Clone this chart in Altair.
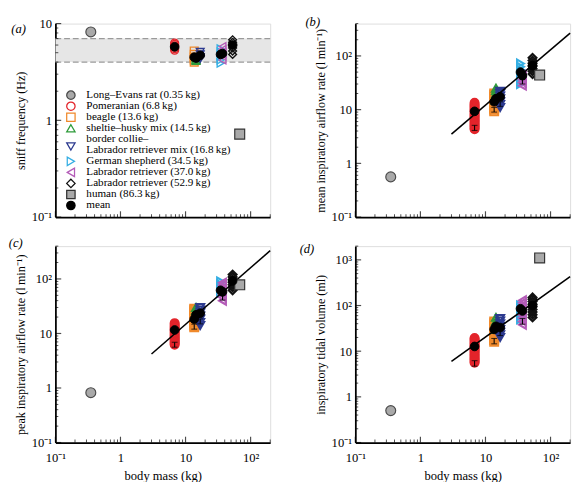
import altair as alt
import pandas as pd

FONT = "Liberation Serif"
TS = "\u2009"

# ---------------- groups (legend order) ----------------
group_labels = [
    f"Long\u2013Evans rat (0.35{TS}kg)",
    f"Pomeranian (6.8{TS}kg)",
    f"beagle (13.6{TS}kg)",
    f"sheltie\u2013husky mix (14.5{TS}kg)",
    f"border collie\u2013Labrador retriever mix (16.8{TS}kg)",
    f"German shepherd (34.5{TS}kg)",
    f"Labrador retriever (37.0{TS}kg)",
    f"Labrador retriever (52.9{TS}kg)",
    f"human (86.3{TS}kg)",
    "mean",
]
group_shapes = ["circle", "circle", "square", "triangle-up", "triangle-down",
                "triangle-right", "triangle-left", "diamond", "square", "circle"]
group_strokes = ["#4a4a4a", "#e3242b", "#f0892b", "#2e9b3a", "#2c3a8f",
                 "#35aee3", "#b45cb8", "#111111", "#333333", "#000000"]
group_fills = ["#a9a9a9", "transparent", "transparent", "transparent", "transparent",
               "transparent", "transparent", "transparent", "#a9a9a9", "#000000"]

# legend text lines (the border collie entry is wrapped onto two lines)
legend_lines = [
    f"Long\u2013Evans rat (0.35{TS}kg)",
    f"Pomeranian (6.8{TS}kg)",
    f"beagle (13.6{TS}kg)",
    f"sheltie\u2013husky mix (14.5{TS}kg)",
    "border collie\u2013",
    f"Labrador retriever mix (16.8{TS}kg)",
    f"German shepherd (34.5{TS}kg)",
    f"Labrador retriever (37.0{TS}kg)",
    f"Labrador retriever (52.9{TS}kg)",
    f"human (86.3{TS}kg)",
    "mean",
]
legend_line_rows = [0, 1, 2, 3, 4, 5, 6, 7, 8, 9, 10]
legend_symbol_rows = [0, 1, 2, 3, 4.65, 6, 7, 8, 9, 10]

dog_groups = group_labels[1:8]
dog_mass = [6.8, 13.6, 14.5, 16.8, 34.5, 37.0, 52.9]
rat_mass = 0.35
human_mass = 68.0  # where the human square is drawn

# ---------------- (a) sniff frequency (Hz) ----------------
sniff_ind = [
    [5.3, 5.5, 5.7, 5.9, 6.1, 6.3],
    [4.0, 4.2, 4.5, 4.8, 5.2],
    [4.1, 4.2, 4.35, 4.5],
    [4.3, 4.5, 4.8, 5.1],
    [3.9, 4.2, 4.6, 5.1, 5.5],
    [4.2, 4.6, 5.0, 5.4, 5.8],
    [4.8, 5.2, 5.6, 6.0, 6.4, 6.8],
]
sniff_mean = [5.75, 4.5, 4.4, 4.7, 4.8, 4.9, 6.0]
sniff_rat = 8.2
sniff_human = 0.72
sniff_band = [4.0, 7.0]

# ---------------- (b) mean inspiratory airflow (l/min) ----------------
mean_ind = [
    [4.3, 4.5, 4.8, 5.0, 5.3, 5.6, 5.9, 6.2, 6.5, 6.9, 7.3, 7.7, 8.1, 8.6, 9.1,
     9.6, 10.1, 10.7, 11.3, 11.9, 12.6, 13.4],
    [9.3, 10.0, 10.7, 11.5, 12.3, 13.2, 14.2, 15.2, 16.3, 17.5, 18.8, 20.0],
    [15, 17, 19.5, 22.5, 25],
    [11, 12.5, 14, 16, 18, 20, 22],
    [30, 35, 40, 47, 55, 63, 72],
    [28, 32, 36, 40, 45],
    [46, 52, 58, 65, 73, 82, 92],
]
mean_mean = [9.3, 14, 16, 17.4, 50, 43, 66]
mean_rat = 0.56
mean_human = 44
mean_fit_mass = [3, 200]
mean_fit = [3.5, 265]
mean_bar_mass = [6.8, 13.6, 16.8, 37.0]
mean_bar_lo = [4.1, 9.0, 11.5, 30]
mean_bar_hi = [5.1, 11.0, 14.0, 37]

# ---------------- (c) peak inspiratory airflow (l/min) ----------------
peak_ind = [
    [6.2, 6.5, 6.8, 7.1, 7.5, 7.9, 8.3, 8.7, 9.2, 9.7, 10.2, 10.7, 11.3, 11.9,
     12.5, 13.2, 13.9, 14.7, 15.5],
    [13, 13.8, 14.7, 15.7, 16.8, 18.0, 19.3, 20.7, 22.2, 23.8, 25.5, 27.3, 28.5],
    [20, 23, 26, 30],
    [14, 16, 18.5, 21, 24, 27, 30],
    [55, 62, 70, 80, 90],
    [40, 46, 52, 60, 68, 77, 85],
    [62, 70, 78, 87, 97, 108, 120],
]
peak_mean = [11.6, 18.3, 22, 23.5, 62, 58, 92]
peak_rat = 0.82
peak_human = 78
peak_fit_mass = [3, 200]
peak_fit = [4.2, 330]
peak_bar_mass = [6.8, 13.6, 16.8, 37.0]
peak_bar_lo = [5.6, 12, 15, 41]
peak_bar_hi = [6.9, 14.8, 18.5, 50]

# ---------------- (d) inspiratory tidal volume (ml) ----------------
tidal_ind = [
    [5.6, 5.9, 6.3, 6.7, 7.1, 7.6, 8.1, 8.6, 9.2, 9.8, 10.4, 11.1, 11.8, 12.6,
     13.4, 14.3, 15.2, 16.2, 17.3, 18.4, 19.5],
    [16, 17.5, 19, 20.5, 22.5, 24.5, 26.5, 29, 31.5, 34.5, 37.5, 41, 45],
    [30, 37, 45, 55],
    [20, 23, 26, 30, 35, 40, 46, 52],
    [50, 58, 67, 77, 88, 100],
    [38, 45, 53, 62, 73, 86, 100, 115, 130],
    [55, 63, 72, 82, 94, 107, 122, 138, 150],
]
tidal_mean = [12.7, 30, 35, 33, 85, 76, 100]
tidal_rat = 0.5
tidal_human = 1100
tidal_fit_mass = [3, 200]
tidal_fit = [6, 430]
tidal_bar_mass = [6.8, 13.6, 16.8, 37.0]
tidal_bar_lo = [4.7, 14.5, 22, 39]
tidal_bar_hi = [6.2, 19, 29, 52]

# ---------------- axes ----------------
x_domain = [0.1, 200]
major_values = [0.1, 1, 10, 100, 1000]
minor_values = [m * 10.0 ** e for e in range(-1, 4) for m in range(2, 10)]
LABEL_EXPR = ("datum.value < 0.5 ? '10\u207b\u00b9' : datum.value < 5 ? '1' : "
              "datum.value < 50 ? '10' : datum.value < 500 ? '10\u00b2' : '10\u00b3'")

W = 222
H1 = 200
H2 = 203


def group_enc():
    return dict(
        shape=alt.Shape("group:N", scale=alt.Scale(domain=group_labels, range=group_shapes), legend=None),
        fill=alt.Fill("group:N", scale=alt.Scale(domain=group_labels, range=group_fills), legend=None),
        stroke=alt.Stroke("group:N", scale=alt.Scale(domain=group_labels, range=group_strokes), legend=None),
    )


def make_panel(ind, means, rat, human, ydom, ytitle, H, show_x, label, label_x, label_y,
               fit_mass=None, fit=None, bar_mass=None, bar_lo=None, bar_hi=None,
               band=None, legend=False, ind_stroke=2.2):
    xscale = alt.Scale(type="log", domain=x_domain, nice=False)
    yscale = alt.Scale(type="log", domain=ydom, nice=False)
    common = dict(ticks=False, grid=False, domainColor="black", domainWidth=1.8,
                  labelFont=FONT, labelFontSize=13, labelColor="black",
                  labelOverlap=False, titleFont=FONT, titleFontSize=13,
                  titleFontWeight="normal", titleColor="black")
    if show_x:
        xaxis = alt.Axis(values=[v for v in major_values if v <= x_domain[1]],
                         labelExpr=LABEL_EXPR, labelFlush=False, labelPadding=10,
                         title="body mass (kg)", titlePadding=5, **common)
    else:
        xaxis = alt.Axis(labels=False, title=None, **{k: v for k, v in common.items()
                                                       if not k.startswith("label")})
    ycommon = dict(common)
    ycommon["titleFontSize"] = 12.5
    yaxis = alt.Axis(values=[v for v in major_values if v <= ydom[1]],
                     labelExpr=LABEL_EXPR, labelPadding=4, title=ytitle,
                     titlePadding=4, **ycommon)

    def X(f):
        return alt.X(f, type="quantitative", scale=xscale, axis=xaxis)

    def Y(f):
        return alt.Y(f, type="quantitative", scale=yscale, axis=yaxis)

    layers = []
    if band is not None:
        bdf = pd.DataFrame({"lo": [band[0]], "hi": [band[1]]})
        layers.append(alt.Chart(bdf).mark_rect(color="#e6e6e6").encode(
            y=Y("lo"), y2="hi", x=alt.value(0), x2=alt.value(W)))
        rdf = pd.DataFrame({"value": band})
        layers.append(alt.Chart(rdf).mark_rule(color="#9a9a9a", strokeDash=[6, 3], strokeWidth=1.3)
                      .encode(y=Y("value")))

    rows = []
    for g, m, vals in zip(dog_groups, dog_mass, ind):
        for v in vals:
            rows.append({"group": g, "mass": m, "value": v})
    ind_df = pd.DataFrame(rows)
    layers.append(alt.Chart(ind_df).mark_point(size=65, strokeWidth=ind_stroke, opacity=1)
                  .encode(x=X("mass"), y=Y("value"), **group_enc()))

    if fit is not None:
        fdf = pd.DataFrame({"mass": fit_mass, "value": fit})
        layers.append(alt.Chart(fdf).mark_line(color="black", strokeWidth=1.6)
                      .encode(x=X("mass"), y=Y("value")))

    if bar_mass is not None:
        edf = pd.DataFrame({"mass": bar_mass, "lo": bar_lo, "hi": bar_hi})
        layers.append(alt.Chart(edf).mark_rule(color="black", strokeWidth=1.1)
                      .encode(x=X("mass"), y=Y("lo"), y2="hi"))
        layers.append(alt.Chart(edf).mark_tick(orient="horizontal", size=6, thickness=1.1, color="black")
                      .encode(x=X("mass"), y=Y("lo")))
        layers.append(alt.Chart(edf).mark_tick(orient="horizontal", size=6, thickness=1.1, color="black")
                      .encode(x=X("mass"), y=Y("hi")))

    sdf = pd.DataFrame({"group": [group_labels[0], group_labels[8]],
                        "mass": [rat_mass, human_mass], "value": [rat, human]})
    layers.append(alt.Chart(sdf).mark_point(size=105, strokeWidth=1.2, opacity=1)
                  .encode(x=X("mass"), y=Y("value"), **group_enc()))

    mdf = pd.DataFrame({"group": ["mean"] * len(dog_mass), "mass": dog_mass, "value": means})
    layers.append(alt.Chart(mdf).mark_point(size=80, strokeWidth=1, opacity=1)
                  .encode(x=X("mass"), y=Y("value"), **group_enc()))

    # inward axis ticks
    xmaj = pd.DataFrame({"t": [v for v in major_values if x_domain[0] <= v <= x_domain[1]]})
    xmin = pd.DataFrame({"t": [v for v in minor_values if x_domain[0] <= v <= x_domain[1]]})
    ymaj = pd.DataFrame({"t": [v for v in major_values if ydom[0] <= v <= ydom[1]]})
    ymin = pd.DataFrame({"t": [v for v in minor_values if ydom[0] <= v <= ydom[1]]})
    layers.append(alt.Chart(xmaj).mark_tick(orient="vertical", size=6, thickness=1.2, color="black")
                  .encode(x=X("t"), y=alt.value(H - 3)))
    layers.append(alt.Chart(xmin).mark_tick(orient="vertical", size=3, thickness=1.0, color="black")
                  .encode(x=X("t"), y=alt.value(H - 1.5)))
    layers.append(alt.Chart(ymaj).mark_tick(orient="horizontal", size=6, thickness=1.2, color="black")
                  .encode(y=Y("t"), x=alt.value(3)))
    layers.append(alt.Chart(ymin).mark_tick(orient="horizontal", size=3, thickness=1.0, color="black")
                  .encode(y=Y("t"), x=alt.value(1.5)))

    ldf = pd.DataFrame({"t": [label]})
    layers.append(alt.Chart(ldf).mark_text(font=FONT, fontSize=13, fontStyle="italic",
                                           align="center", baseline="middle", color="black")
                  .encode(text="t:N", x=alt.value(label_x), y=alt.value(label_y)))

    panel = alt.layer(*layers)

    if legend:
        rowscale = alt.Scale(domain=[0, 10], range=[74, 188])
        sym_df = pd.DataFrame({"group": group_labels, "row": legend_symbol_rows})
        txt_df = pd.DataFrame({"line": legend_lines, "row": legend_line_rows})
        leg_sym = alt.Chart(sym_df).mark_point(size=75, strokeWidth=1.3, opacity=1).encode(
            y=alt.Y("row:Q", scale=rowscale, axis=None), x=alt.value(16), **group_enc())
        leg_txt = alt.Chart(txt_df).mark_text(font=FONT, fontSize=11.5, align="left",
                                              baseline="middle", color="black").encode(
            y=alt.Y("row:Q", scale=rowscale, axis=None), x=alt.value(32), text="line:N")
        panel = alt.layer(panel, alt.layer(leg_sym, leg_txt)).resolve_scale(y="independent")

    return panel.properties(width=W, height=H)


pa = make_panel(sniff_ind, sniff_mean, sniff_rat, sniff_human, [0.1, 10],
                "sniff frequency (Hz)", H1, False, "(a)", -38, 6,
                band=sniff_band, legend=True, ind_stroke=1.4)
pb = make_panel(mean_ind, mean_mean, mean_rat, mean_human, [0.1, 400],
                "mean inspiratory airflow rate (l\u2009min\u207b\u00b9)", H1, False, "(b)", -44, -1,
                mean_fit_mass, mean_fit, mean_bar_mass, mean_bar_lo, mean_bar_hi)
pc = make_panel(peak_ind, peak_mean, peak_rat, peak_human, [0.1, 400],
                "peak inspiratory airflow rate (l\u2009min\u207b\u00b9)", H2, True, "(c)", -41, -3,
                peak_fit_mass, peak_fit, peak_bar_mass, peak_bar_lo, peak_bar_hi)
pd_ = make_panel(tidal_ind, tidal_mean, tidal_rat, tidal_human, [0.1, 2000],
                 "inspiratory tidal volume (ml)", H2, True, "(d)", -50, 3,
                 tidal_fit_mass, tidal_fit, tidal_bar_mass, tidal_bar_lo, tidal_bar_hi)

chart = (
    alt.concat(pa, pb, pc, pd_, columns=2, spacing=alt.RowColnumber(row=12, column=25))
    .properties(padding=0, background="white")
    .configure_view(stroke=None)
    .configure(font=FONT)
)

chart.save("out.html", embed_options={"renderer": "svg", "actions": False})
